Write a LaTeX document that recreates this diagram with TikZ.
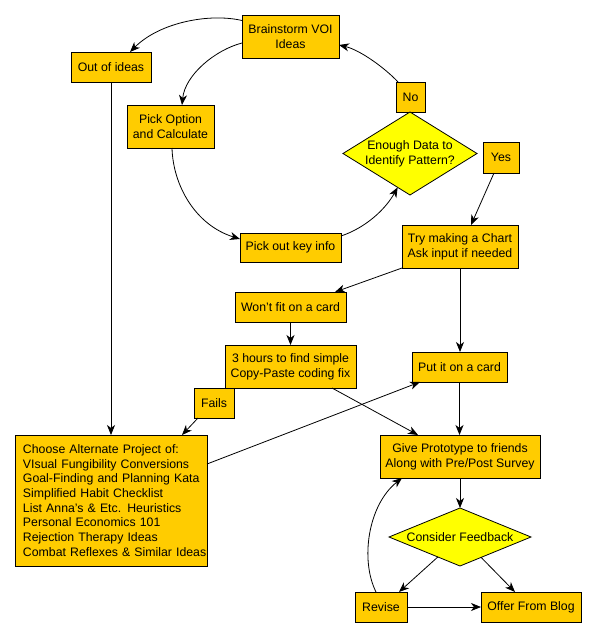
\documentclass[tikz,border=0pt]{standalone}
\usepackage{fontspec}
\setmainfont{Liberation Sans}
\usetikzlibrary{shapes.geometric,arrows.meta,calc}
\definecolor{boxc}{RGB}{255,204,0}
\definecolor{diac}{RGB}{255,255,0}
\tikzset{
  box/.style={draw=black, fill=boxc, line width=0.8pt, inner sep=0pt, outer sep=0pt, align=center,
    font=\fontsize{12.3}{14.7}\selectfont},
  dia/.style={shape=diamond, draw=black, fill=diac, line width=0.8pt, inner sep=0pt, outer sep=0pt},
  diatext/.style={inner sep=0pt, align=center, font=\fontsize{12.3}{14.7}\selectfont},
  arr/.style={line width=0.8pt, -{Stealth[length=10pt,width=8pt,inset=3pt]}}
}
\begin{document}
\begin{tikzpicture}[x=1pt,y=-1pt]
\useasboundingbox (0,0) rectangle (596,637);
\node[box, minimum width=97, minimum height=43] (brain) at (290.5,36.5) {Brainstorm VOI\\Ideas};
\node[box, minimum width=80, minimum height=30] (out) at (111,67) {Out of ideas};
\node[box, minimum width=87, minimum height=43] (pick) at (170.5,126.5) {Pick Option\\and Calculate};
\node[box, minimum width=101, minimum height=29] (key) at (290.5,247.5) {Pick out key info};
\node[box, minimum width=29, minimum height=30] (no) at (410.5,97) {No};
\node[dia, minimum width=134, minimum height=83] (enough) at (410,153.5) {};
\node[diatext] (enoughtext) at (enough.center) {Enough Data to\\Identify Pattern?};
\node[box, minimum width=36, minimum height=31] (yes) at (501,157.5) {Yes};
\node[box, minimum width=116, minimum height=43] (try) at (460,246.5) {Try making a Chart\\Ask input if needed};
\node[box, minimum width=111, minimum height=30] (wont) at (290.5,307) {Won't fit on a card};
\node[box, minimum width=131, minimum height=43] (three) at (290.5,366.5) {3 hours to find simple\\Copy-Paste coding fix};
\node[box, minimum width=40, minimum height=30] (fails) at (214,403) {Fails};
\node[box, minimum width=95, minimum height=30] (put) at (459.5,367) {Put it on a card};
\node[box, text width=176, inner xsep=8pt, minimum height=131, align=left] (choose) at (111,500.5) {\mbox{Choose Alternate Project of:}\\\mbox{VIsual Fungibility Conversions}\\\mbox{Goal-Finding and Planning Kata}\\\mbox{Simplified Habit Checklist}\\\mbox{List Anna's \& Etc. Heuristics}\\\mbox{Personal Economics 101}\\\mbox{Rejection Therapy Ideas}\\\mbox{Combat Reflexes \& Similar Ideas}};
\node[box, minimum width=160, minimum height=43] (give) at (460,456.5) {Give Prototype to friends\\Along with Pre/Post Survey};
\node[dia, minimum width=142, minimum height=58] (cons) at (460,537) {};
\node[diatext] (constext) at (cons.center) {Consider Feedback};
\node[box, minimum width=52, minimum height=30] (revise) at (381,607) {Revise};
\node[box, minimum width=100, minimum height=30] (offer) at (531,607) {Offer From Blog};

% curved loop
\draw[arr] ($(brain.west)+(0,-16)$) .. controls (210,13) and (160,22) .. ($(out.north)+(19,0)$);
\draw[arr] ($(brain.west)+(0,6.5)$) .. controls (215,50) and (185,75) .. ($(pick.north)+(11.5,0)$);
\draw[arr] ($(pick.south)+(1.5,0)$) .. controls (173,185) and (195,225) .. ($(key.west)+(0,-8.5)$);
\draw[arr] ($(key.east)+(0,-11.5)$) .. controls (365,228) and (385,210) .. (enough.250);
\draw[arr] ($(no.north)+(-12.5,0)$) .. controls (385,68) and (360,50) .. ($(brain.east)+(0,8.5)$);

% straight connectors
\draw[arr] ($(yes.south)+(-7,0)$) -- ($(try.north)+(11,0)$);
\draw[arr] (try.south west) -- ($(wont.north)+(44.5,0)$);
\draw[arr] (try.south) -- (try.south |- put.north);
\draw[arr] (wont.south) -- (three.north);
\draw[arr] (out.south) -- (out.south |- choose.north);
\draw[arr] ($(fails.south)+(-16,0)$) -- ($(choose.north)+(71,0)$);
\draw[arr] ($(choose.east)+(0,-36.5)$) -- ($(put.south west)+(8,0)$);
\draw[arr] ($(three.south)+(41.5,0)$) -- ($(give.north west)+(38,0)$);
\draw[arr] (put.south) -- (put.south |- give.north);
\draw[arr] (give.south) -- (cons.north);
\draw[arr] (cons.222) -- ($(revise.north)+(18,0)$);
\draw[arr] (cons.-44) -- ($(offer.north)+(-16,0)$);
\draw[arr] (revise.east) -- (offer.west);
\draw[arr] ($(revise.north)+(-5,0)$) .. controls (360,560) and (368,505) .. ($(give.south west)+(22,0)$);
\end{tikzpicture}
\end{document}
